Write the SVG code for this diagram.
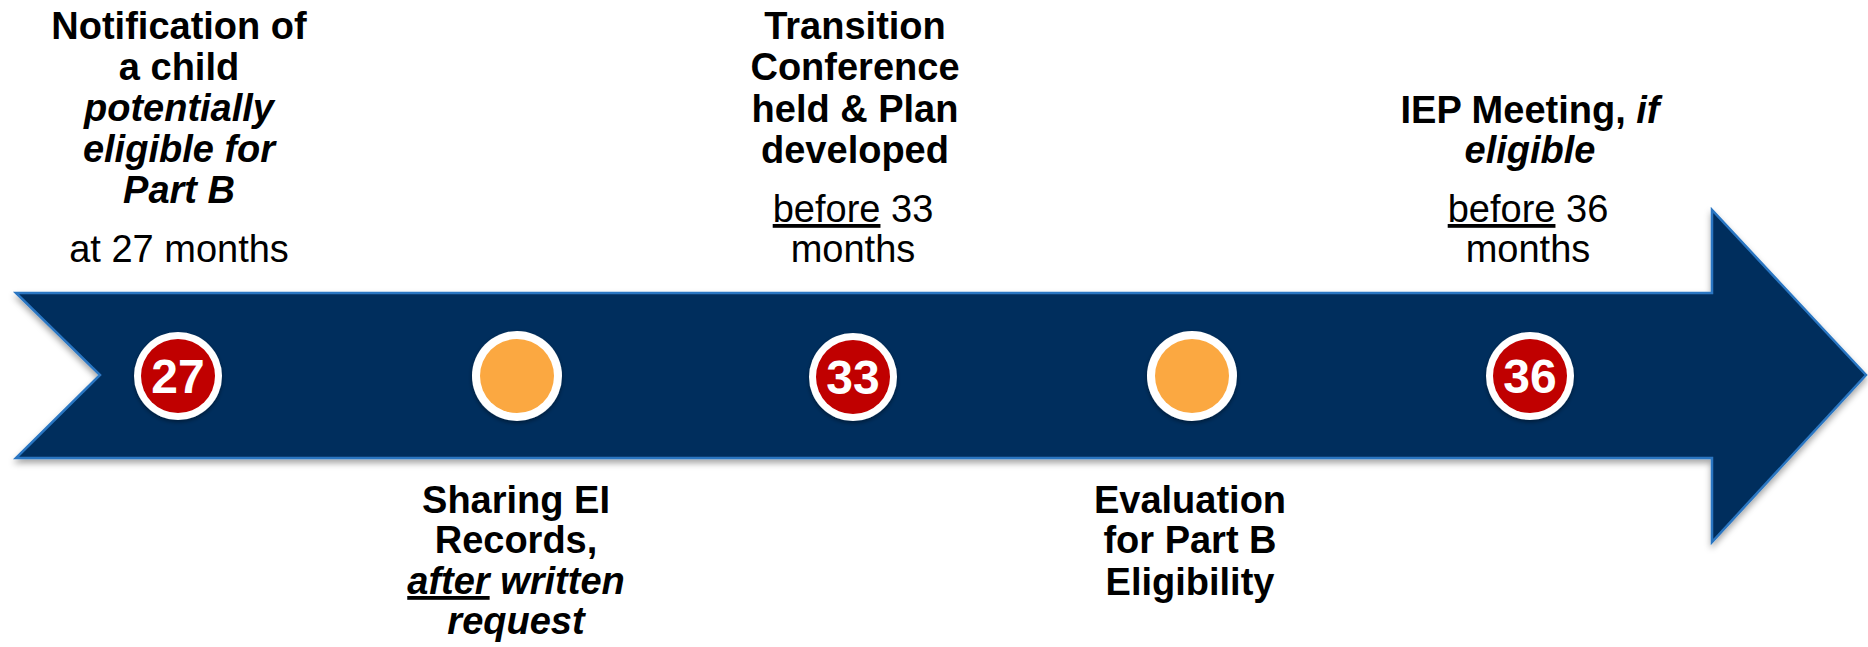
<svg xmlns="http://www.w3.org/2000/svg" width="1868" height="647" viewBox="0 0 1868 647">
  <defs>
    <filter id="shadow" x="-5%" y="-10%" width="110%" height="130%">
      <feDropShadow dx="0" dy="4" stdDeviation="3" flood-color="#000" flood-opacity="0.35"/>
    </filter>
    <filter id="dotShadow" x="-30%" y="-30%" width="160%" height="160%">
      <feDropShadow dx="0" dy="2" stdDeviation="2" flood-color="#000" flood-opacity="0.4"/>
    </filter>
  </defs>
  <style>
    text { font-family: "Liberation Sans", Arial, sans-serif; font-size: 38px; fill: #000; text-anchor: middle; }
    .b { font-weight: bold; }
    .bi { font-weight: bold; font-style: italic; }
    .u { text-decoration: underline; }
    .ring { fill: #fff; filter: url(#dotShadow); }
    .red { fill: #C00000; }
    .orange { fill: #FBA841; }
    .num { font-size: 48px; font-weight: bold; fill: #fff; }
  </style>

  <!-- timeline arrow -->
  <g id="timeline">
    <polygon points="16,293 1712,293 1712,210 1866,375 1712,542 1712,458 16,458 100,375"
             fill="#002E5D" stroke="#2A76C2" stroke-width="2.5" stroke-linejoin="miter" filter="url(#shadow)"/>
  </g>

  <g id="connectors"></g>

  <!-- milestone 27 -->
  <g id="m27">
    <circle class="ring" cx="178" cy="376" r="44"/>
    <circle class="red" cx="178" cy="376" r="37"/>
    <text class="num" x="178" y="393">27</text>
    <text class="b" x="179" y="39">Notification of</text>
    <text class="b" x="179" y="80">a child</text>
    <text class="bi" x="179" y="121">potentially</text>
    <text class="bi" x="179" y="162">eligible for</text>
    <text class="bi" x="179" y="203">Part B</text>
    <text x="179" y="262">at 27 months</text>
  </g>

  <!-- records sharing -->
  <g id="records">
    <circle class="ring" cx="517" cy="376" r="45"/>
    <circle class="orange" cx="517" cy="376" r="37"/>
    <text class="b" x="516" y="513">Sharing EI</text>
    <text class="b" x="516" y="553">Records,</text>
    <text class="bi" x="516" y="594"><tspan class="u">after</tspan> written</text>
    <text class="bi" x="516" y="634">request</text>
  </g>

  <!-- milestone 33 -->
  <g id="m33">
    <circle class="ring" cx="853" cy="377" r="44"/>
    <circle class="red" cx="853" cy="377" r="37"/>
    <text class="num" x="853" y="394">33</text>
    <text class="b" x="855" y="39">Transition</text>
    <text class="b" x="855" y="80">Conference</text>
    <text class="b" x="855" y="122">held &amp; Plan</text>
    <text class="b" x="855" y="163">developed</text>
    <text x="853" y="222"><tspan class="u">before</tspan> 33</text>
    <text x="853" y="262">months</text>
  </g>

  <!-- evaluation -->
  <g id="evaluation">
    <circle class="ring" cx="1192" cy="376" r="45"/>
    <circle class="orange" cx="1192" cy="376" r="37"/>
    <text class="b" x="1190" y="513">Evaluation</text>
    <text class="b" x="1190" y="553">for Part B</text>
    <text class="b" x="1190" y="595">Eligibility</text>
  </g>

  <!-- milestone 36 -->
  <g id="m36">
    <circle class="ring" cx="1530" cy="376" r="44"/>
    <circle class="red" cx="1530" cy="376" r="37"/>
    <text class="num" x="1530" y="393">36</text>
    <text class="b" x="1530" y="123">IEP Meeting, <tspan class="bi">if</tspan></text>
    <text class="bi" x="1530" y="163">eligible</text>
    <text x="1528" y="222"><tspan class="u">before</tspan> 36</text>
    <text x="1528" y="262">months</text>
  </g>
</svg>
